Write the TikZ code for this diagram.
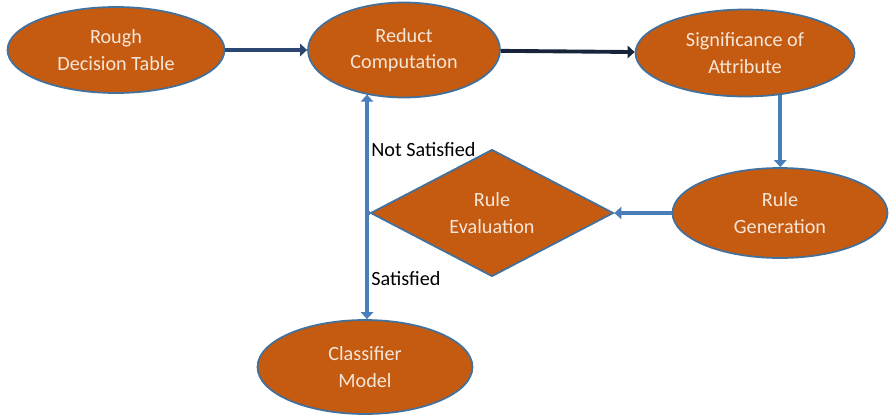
\documentclass[tikz,border=0pt]{standalone}
\usepackage{fontspec}
\setmainfont{Carlito}
\usetikzlibrary{shapes.geometric, arrows.meta}

\definecolor{stagefill}{HTML}{C55A11}
\definecolor{stageline}{HTML}{41719C}
\definecolor{stagetext}{HTML}{F6E6D8}
\definecolor{flowblue}{HTML}{4A7EBB}
\definecolor{flownavy}{HTML}{2B4670}
\definecolor{flowdark}{HTML}{17243A}

\tikzset{
    stage/.style={ellipse, draw=stageline, line width=1pt, fill=stagefill,
        text=stagetext, font=\fontsize{11.5}{15}\selectfont, align=center, inner sep=0pt},
    check/.style={diamond, draw=stageline, line width=1pt, fill=stagefill,
        text=stagetext, font=\fontsize{11.5}{15}\selectfont, align=center, inner sep=0pt},
    flow/.style={draw=flowblue, line width=2.2pt, -{Triangle[length=4pt, width=7pt]}},
    tag/.style={anchor=west, inner sep=0pt, font=\fontsize{11.5}{13}\selectfont}
}

\begin{document}
\begin{tikzpicture}[x=0.02cm, y=-0.02cm]
                \useasboundingbox (0,0) rectangle (889,416);
                % stages
                \node[stage, minimum width=4.34cm, minimum height=1.72cm] (rough) at (116,50) {Rough\\Decision Table};
                \node[stage, minimum width=3.84cm, minimum height=1.90cm] (reduct) at (404,50) {Reduct\\Computation};
                \node[stage, minimum width=4.38cm, minimum height=1.74cm] (signif) at (745,53) {Significance of\\Attribute};
                \node[stage, minimum width=4.30cm, minimum height=1.80cm] (rulegen) at (780,213) {Rule\\Generation};
                \node[check, minimum width=4.86cm, minimum height=2.54cm] (rulecheck) at (492,213) {Rule\\Evaluation};
                \node[stage, minimum width=4.30cm, minimum height=1.88cm] (classifier) at (365,367) {Classifier\\Model};
                \coordinate (split) at (367,213);
                % connectors
                \draw[flow, draw=flownavy] (rough) -- (reduct);
                \draw[flow, draw=flowdark] (reduct) -- (signif);
                \draw[flow] (signif.310) -- (signif.310 |- rulegen.north);
                \draw[flow] (rulegen) -- (rulecheck);
                \draw[draw=flowblue, line width=2.2pt] (rulecheck.west) -- (split);
                \draw[flow] (split) -- (split |- reduct.230);
                \draw[flow] (split) -- (split |- classifier.north);
                %\draw[flow] (rulecheck.west) -| (reduct);
                \node[tag] (notsat) at (371,150) {Not Satisfied};
                \node[tag] (sat) at (371,279) {Satisfied};
            \end{tikzpicture}
\end{document}
